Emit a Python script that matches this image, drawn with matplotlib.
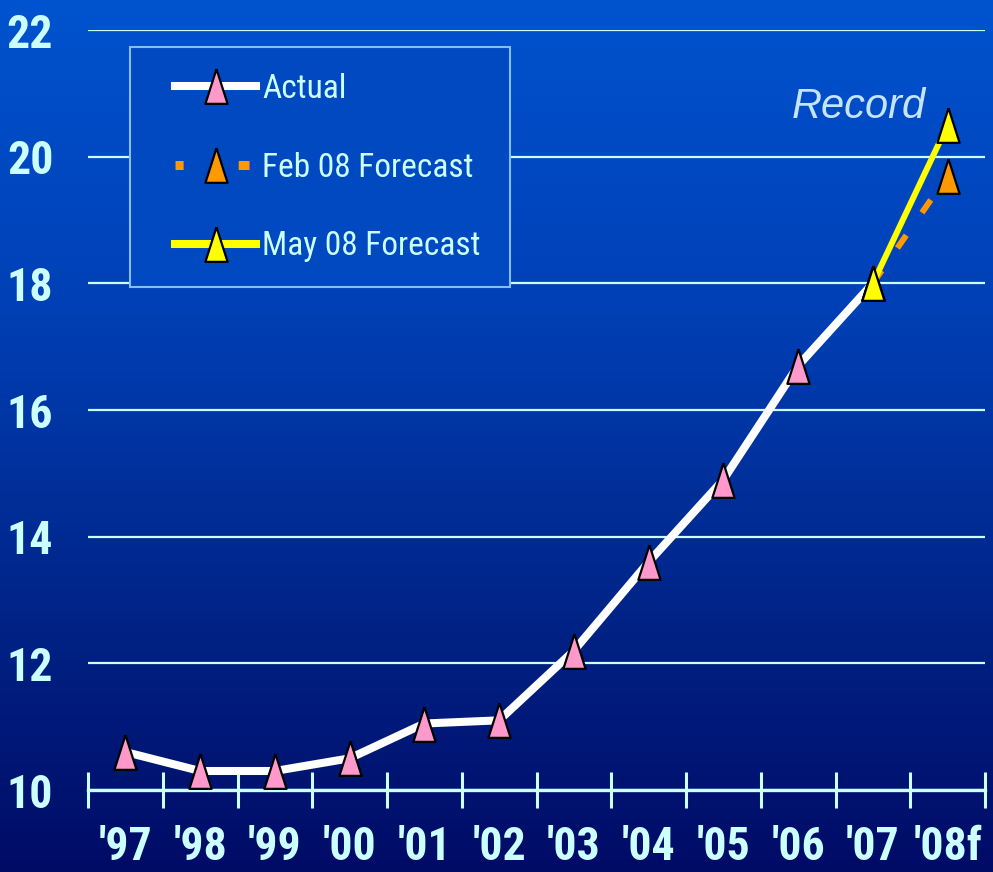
import os
import matplotlib
matplotlib.use("Agg")
import matplotlib.pyplot as plt
import matplotlib.font_manager as fm
from matplotlib.font_manager import FontProperties
from matplotlib.lines import Line2D
from matplotlib.patches import Rectangle
import numpy as np

# data
years = ["'97", "'98", "'99", "'00", "'01", "'02", "'03", "'04", "'05", "'06", "'07", "'08f"]
actual = [10.6, 10.3, 10.3, 10.5, 11.05, 11.1, 12.2, 13.6, 14.9, 16.7, 18.0]
feb_forecast = [18.0, 19.7]   # '07 -> '08f
may_forecast = [18.0, 20.5]   # '07 -> '08f
y_ticks = [10, 12, 14, 16, 18, 20, 22]
labels = ["Actual", "Feb 08 Forecast", "May 08 Forecast"]

W, H = 993, 872
txt = "#ccffff"


def narrow_font(bold):
    # the original uses Arial Narrow; take the closest condensed face installed
    prefs = ["liberationsansnarrow", "arialnarrow", "robotocondensed",
             "notosans-condensed", "opensans-condensed", "opensans_condensed",
             "dejavusanscondensed"]
    want = 700 if bold else 400
    best = None
    for f in fm.fontManager.ttflist:
        base = os.path.basename(f.fname).lower()
        if "italic" in base or "oblique" in base:
            continue
        w = f.weight if isinstance(f.weight, int) else fm.weight_dict.get(f.weight, 400)
        if w != want:
            continue
        for rank, p in enumerate(prefs):
            if base.startswith(p):
                if best is None or rank < best[0]:
                    best = (rank, f.fname)
    if best:
        return best[1]
    return fm.findfont(FontProperties(family="Liberation Sans",
                                      weight="bold" if bold else "normal"))


bold_file = narrow_font(True)
reg_file = narrow_font(False)

# background gradient, top -> bottom
stops = [0.0, 0.35, 0.7, 1.0]
cols = np.array([[0x00, 0x53, 0xcf], [0x00, 0x40, 0xb6], [0x00, 0x24, 0x88], [0x00, 0x0b, 0x66]]) / 255.0
t = np.linspace(0, 1, 400)
grad = np.stack([np.interp(t, stops, cols[:, i]) for i in range(3)], axis=-1)[:, None, :]


def bg_at(frac):
    return tuple(np.interp(frac, stops, cols[:, i]) for i in range(3))


fig = plt.figure(figsize=(W / 100, H / 100), dpi=100)
bg = fig.add_axes([0, 0, 1, 1], zorder=-10)
bg.imshow(grad, aspect="auto", extent=[0, 1, 0, 1])
bg.axis("off")

ax = fig.add_axes([88 / W, 82 / H, (985 - 88) / W, (790 - 30) / H])
ax.set_facecolor("none")

x = np.arange(len(years))
tri = [(0, 1), (-0.64, -1), (0.64, -1), (0, 1)]
mk = dict(marker=tri, markersize=25, markeredgecolor="black", markeredgewidth=1.6)

ax.plot(x[:len(actual)], actual, color="white", lw=5.8, markerfacecolor="#ff99cc",
        solid_capstyle="butt", zorder=3, clip_on=False, **mk)
ax.plot(x[-2:], feb_forecast, color="#ff9900", lw=4.3, dashes=(2.6, 4.6),
        markerfacecolor="#ff9900", zorder=4, clip_on=False, **mk)
ax.plot(x[-2:], may_forecast, color="#ffff00", lw=4.3, markerfacecolor="#ffff00",
        zorder=5, clip_on=False, **mk)

ax.text(10.71, 20.61, "Record", fontsize=30, style="italic", color="#c4e4ff",
        family="Liberation Sans", ha="right", va="baseline")

ax.set_xlim(-0.5, len(years) - 0.5)
ax.set_ylim(10, 22)

# y axis
ax.set_yticks(y_ticks)
ax.set_yticklabels([str(v) for v in y_ticks])
ax.tick_params(axis="y", length=0, pad=25, labelcolor=txt)
ax.yaxis.grid(True, color=txt, lw=1.6, zorder=1)
ax.set_axisbelow(True)

# x axis: boundary ticks crossing the line, labels centred
ax.set_xticks(np.arange(-0.5, len(years)), labels=[""] * (len(years) + 1))
ax.set_xticks(x, labels=years, minor=True)
ax.tick_params(axis="x", which="major", direction="inout", length=26, width=2.2, color=txt)
ax.tick_params(axis="x", which="minor", length=0, pad=25, labelcolor=txt)

for lab in ax.get_xticklabels(minor=True) + ax.get_yticklabels():
    lab.set_fontproperties(FontProperties(fname=bold_file, size=33))

for s in ["top", "right", "left"]:
    ax.spines[s].set_visible(False)
ax.spines["bottom"].set_color(txt)
ax.spines["bottom"].set_linewidth(2.4)
ax.spines["bottom"].set_zorder(2)

# legend box
ax.add_patch(Rectangle((130 / W, 1 - 287 / H), 380 / W, 240 / H, transform=fig.transFigure,
                       facecolor=bg_at(167 / H), edgecolor="#88bbff", lw=1.5,
                       zorder=6, clip_on=False))

handles = [
    Line2D([], [], color="white", lw=5.8, markerfacecolor="#ff99cc", **mk),
    Line2D([], [], color="#ff9900", lw=6.5, linestyle=(0.3, (1.2, 6.1)),
           markerfacecolor="#ff9900", **mk),
    Line2D([], [], color="#ffff00", lw=5.8, markerfacecolor="#ffff00", **mk),
]
leg = ax.legend(handles, labels, loc="upper left", bbox_to_anchor=(175 / W, 1 - 73 / H),
                bbox_transform=fig.transFigure, borderaxespad=0, borderpad=0,
                prop=FontProperties(fname=reg_file, size=24), labelcolor=txt,
                handlelength=2.43, handletextpad=0.18, labelspacing=1.4,
                frameon=False)
leg.set_zorder(7)

fig.savefig("out.png", dpi=100)
